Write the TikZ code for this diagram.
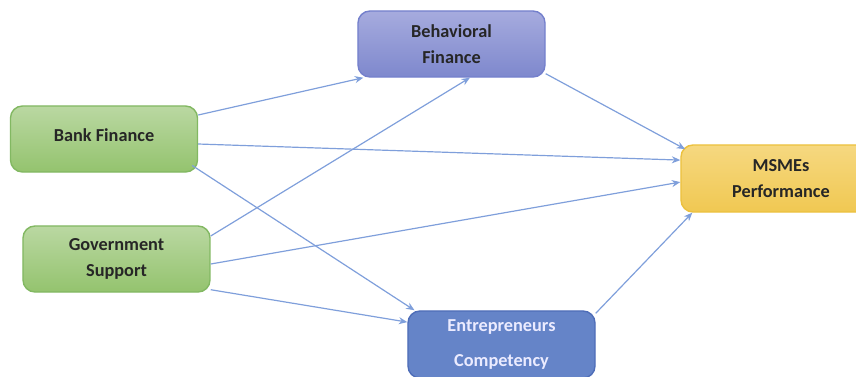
\documentclass[tikz,border=0pt]{standalone}
\usepackage{fontspec}
\setmainfont{Carlito}
\usetikzlibrary{arrows.meta,positioning}

\definecolor{arr}{HTML}{7F9FDB}
\tikzset{
  box/.style={rounded corners=0.3cm, line width=1pt, minimum width=4.675cm, minimum height=1.65cm,
    align=center, inner sep=0pt, font=\fontsize{13}{18}\selectfont\bfseries, text=black!85},
  greenbox/.style={box, draw={rgb,255:red,130;green,184;blue,98}, top color={rgb,255:red,186;green,216;blue,162}, bottom color={rgb,255:red,148;green,195;blue,110}},
  purplebox/.style={box, draw={rgb,255:red,116;green,128;blue,204}, top color={rgb,255:red,166;green,171;blue,222}, bottom color={rgb,255:red,126;green,136;blue,205}},
  bluebox/.style={box, draw={rgb,255:red,78;green,109;blue,184}, fill={rgb,255:red,101;green,132;blue,200}, text=white!92!blue},
  yellowbox/.style={box, minimum width=5cm, draw={rgb,255:red,236;green,193;blue,62}, top color={rgb,255:red,246;green,216;blue,128}, bottom color={rgb,255:red,240;green,200;blue,82}},
  link/.style={draw=arr, line width=0.85pt, -{Stealth[length=6pt,width=5pt]}}
}

\begin{document}
\begin{tikzpicture}[x=0.025cm,y=-0.025cm]
\useasboundingbox (0,0) rectangle (856,376);
\clip (0,0) rectangle (856,376);

\node[purplebox] (behav) at (451.5,44) {Behavioral\\Finance};
\node[greenbox] (bank) at (104,139) {\raisebox{0.175cm}{Bank Finance}};
\node[greenbox] (gov) at (116.5,259) {Government\\Support};
\node[bluebox, minimum height=1.675cm] (entre) at (501.5,344.5) {Entrepreneurs\\[7pt]Competency};
\node[yellowbox, minimum height=1.675cm] (msme) at (781,178.5) {MSMEs\\Performance};

% links out of the two green boxes
\draw[link] ([yshift=0.6cm]bank.east) -- ([xshift=0.15cm]behav.south west);
\draw[link] ([yshift=-0.125cm]bank.east) -- ([yshift=0.46cm]msme.west);
\draw[link] ([xshift=-0.15cm,yshift=0.18cm]bank.south east) -- ([xshift=0.18cm]entre.north west);
\draw[link] ([yshift=0.575cm]gov.east) -- ([xshift=0.46cm]behav.south);
\draw[link] ([yshift=-0.125cm]gov.east) -- ([yshift=-0.09cm]msme.west);
\draw[link] ([yshift=0.075cm]gov.south east) -- ([yshift=0.56cm]entre.west);

% links into MSMEs
\draw[link] ([yshift=0.1cm]behav.south east) -- ([xshift=0.12cm,yshift=-0.12cm]msme.north west);
\draw[link] ([yshift=-0.075cm]entre.north east) -- ([xshift=0.3cm]msme.south west);
\end{tikzpicture}
\end{document}
